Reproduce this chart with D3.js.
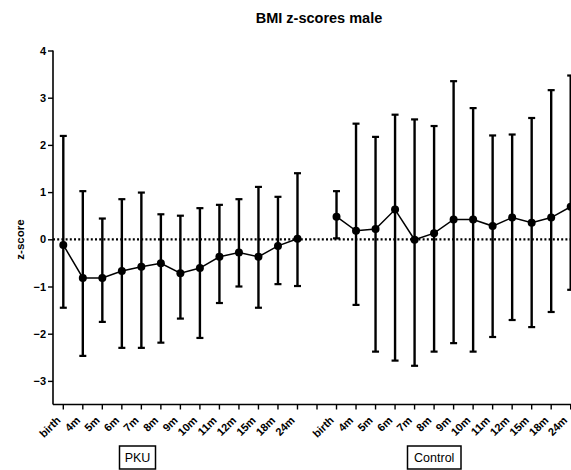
<!DOCTYPE html>
<html>
<head>
<meta charset="utf-8">
<script src="https://cdn.jsdelivr.net/npm/d3@7"></script>
<style>
  html, body { margin: 0; padding: 0; background: #fff; }
  svg { display: block; font-family: "Liberation Sans", Arial, sans-serif; }
</style>
</head>
<body>
<svg id="chart" width="571" height="470"></svg>
<script>
// Time points measured in each group
const timepoints = ["birth", "4m", "5m", "6m", "7m", "8m", "9m", "10m", "11m", "12m", "15m", "18m", "24m"];

// PKU group: mean BMI z-score with lower / upper whisker ends
const pkuMean  = [-0.12, -0.82, -0.82, -0.67, -0.58, -0.51, -0.72, -0.61, -0.37, -0.28, -0.37, -0.14, 0.01];
const pkuLow   = [-1.45, -2.47, -1.75, -2.30, -2.30, -2.19, -1.68, -2.09, -1.35, -1.00, -1.45, -0.95, -0.99];
const pkuHigh  = [ 2.19,  1.02,  0.44,  0.85,  0.99,  0.53,  0.50,  0.66,  0.73,  0.85,  1.11,  0.90,  1.40];

// Control group
const ctrlMean = [ 0.48,  0.18,  0.22,  0.63, -0.01,  0.13,  0.42,  0.42,  0.28,  0.46,  0.35,  0.46,  0.69];
const ctrlLow  = [ 0.02, -1.39, -2.38, -2.57, -2.68, -2.38, -2.20, -2.38, -2.07, -1.71, -1.86, -1.54, -1.07];
const ctrlHigh = [ 1.02,  2.45,  2.17,  2.64,  2.54,  2.40,  3.35,  2.78,  2.20,  2.22,  2.57,  3.16,  3.47];

const yTicks = [-3, -2, -1, 0, 1, 2, 3, 4];
const groupNames = ["PKU", "Control"];

const svg = d3.select("#chart");

// One slot per time point, with an empty slot separating the two groups
const slots = [
  ...timepoints.map(t => "P-" + t),
  "gap",
  ...timepoints.map(t => "C-" + t)
];
const x = d3.scalePoint().domain(slots).range([63.3, 570.7]);
const y = d3.scaleLinear().domain([-3.5, 4]).range([404.5, 50.5]);

const x0 = 53, yBase = y(-3.5);

// Title
svg.append("text")
  .attr("x", 319).attr("y", 23)
  .attr("text-anchor", "middle")
  .attr("font-weight", "bold").attr("font-size", 14.5)
  .text("BMI z-scores male");

// Y axis title
svg.append("text")
  .attr("transform", `translate(24,${(y(-3.5) + y(4)) / 2 + 12}) rotate(-90)`)
  .attr("text-anchor", "middle")
  .attr("font-weight", "bold").attr("font-size", 11.5)
  .text("z-score");

// Y axis
const yAxis = svg.append("g")
  .attr("transform", `translate(${x0},0)`)
  .call(d3.axisLeft(y).tickValues(yTicks).tickSize(5).tickPadding(2).tickFormat(d3.format("d")));
yAxis.select(".domain").attr("stroke", "#000").attr("stroke-width", 1.6)
  .attr("d", `M0,${y(4)}V${yBase}`);
yAxis.selectAll(".tick line").attr("stroke", "#000").attr("stroke-width", 1.4);
yAxis.selectAll(".tick text")
  .attr("font-family", "Liberation Sans, Arial, sans-serif")
  .attr("font-weight", "bold").attr("font-size", 11).attr("fill", "#000");

// X axis line and ticks
const xAxis = svg.append("g").attr("transform", `translate(0,${yBase})`);
xAxis.append("line")
  .attr("x1", x0).attr("x2", 571).attr("y1", 0).attr("y2", 0)
  .attr("stroke", "#000").attr("stroke-width", 1.6);
xAxis.selectAll("line.tick")
  .data(slots).join("line").attr("class", "tick")
  .attr("x1", d => x(d)).attr("x2", d => x(d))
  .attr("y1", 0).attr("y2", 5)
  .attr("stroke", "#000").attr("stroke-width", 1.4);

// Rotated time-point labels (the rightmost one is nudged in to stay on the page)
const labelled = slots.filter(s => s !== "gap");
xAxis.selectAll("text.lab")
  .data(labelled).join("text").attr("class", "lab")
  .attr("transform", (d, i) => {
    const lx = Math.min(x(d) - 2, 568);
    return `translate(${lx},${16.5}) rotate(-45)`;
  })
  .attr("text-anchor", "end")
  .attr("font-weight", "bold").attr("font-size", 11)
  .text(d => d.slice(2));

// Zero reference line
svg.append("line")
  .attr("x1", x0).attr("x2", 571).attr("y1", y(0)).attr("y2", y(0))
  .attr("stroke", "#000").attr("stroke-width", 2.2)
  .attr("stroke-dasharray", "2,2.2");

// Draw one group's whiskers, connecting line and points
function drawGroup(prefix, mean, low, high) {
  const rows = timepoints.map((t, i) => ({ key: prefix + t, m: mean[i], lo: low[i], hi: high[i] }));
  const g = svg.append("g");
  g.selectAll("line.bar").data(rows).join("line").attr("class", "bar")
    .attr("x1", d => x(d.key)).attr("x2", d => x(d.key))
    .attr("y1", d => y(d.lo)).attr("y2", d => y(d.hi))
    .attr("stroke", "#000").attr("stroke-width", 2.4);
  ["lo", "hi"].forEach(k => {
    g.selectAll("line.cap-" + k).data(rows).join("line").attr("class", "cap-" + k)
      .attr("x1", d => x(d.key) - 3.5).attr("x2", d => x(d.key) + 3.5)
      .attr("y1", d => y(d[k])).attr("y2", d => y(d[k]))
      .attr("stroke", "#000").attr("stroke-width", 2.2);
  });
  g.append("path").datum(rows)
    .attr("fill", "none").attr("stroke", "#000").attr("stroke-width", 1.5)
    .attr("d", d3.line().x(d => x(d.key)).y(d => y(d.m)));
  g.selectAll("circle").data(rows).join("circle")
    .attr("cx", d => x(d.key)).attr("cy", d => y(d.m)).attr("r", 4)
    .attr("fill", "#000");
}
drawGroup("P-", pkuMean, pkuLow, pkuHigh);
drawGroup("C-", ctrlMean, ctrlLow, ctrlHigh);

// Group name boxes under the axis
const boxes = [
  { name: groupNames[0], x: 119.5, w: 36 },
  { name: groupNames[1], x: 407.5, w: 53.5 }
];
boxes.forEach(b => {
  svg.append("rect")
    .attr("x", b.x).attr("y", 446).attr("width", b.w).attr("height", 23)
    .attr("fill", "#fff").attr("stroke", "#000").attr("stroke-width", 1.5);
  svg.append("text")
    .attr("x", b.x + b.w / 2).attr("y", 462)
    .attr("text-anchor", "middle").attr("font-size", 12.5)
    .text(b.name);
});
</script>
</body>
</html>
